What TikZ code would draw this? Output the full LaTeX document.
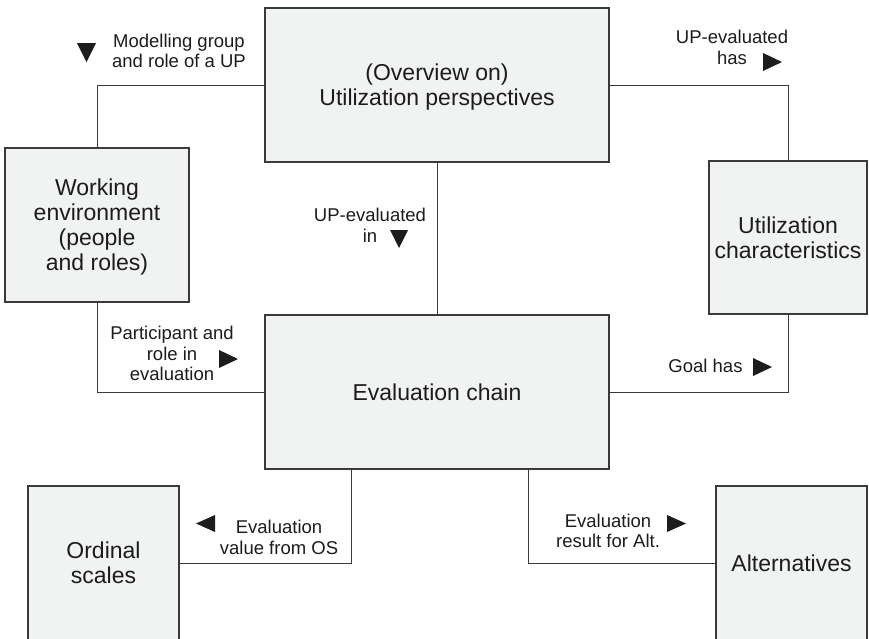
\documentclass[tikz,border=0pt]{standalone}
\usepackage{fontspec}
\setmainfont{Liberation Sans}
\usetikzlibrary{calc}
\definecolor{boxfill}{HTML}{F1F2F2}
\definecolor{edge}{HTML}{3A3A3A}
\definecolor{ink}{HTML}{1C1C1C}
\begin{document}
\begin{tikzpicture}[x=1pt,y=-1pt,
  box/.style={draw=edge, line width=1.1pt, fill=boxfill, text=ink, align=center,
    inner sep=0pt, text depth=0pt, font=\fontsize{23}{25}\selectfont},
  link/.style={draw=edge, line width=1pt},
  lbl/.style={text=ink, align=center, inner sep=0pt, anchor=base,
    font=\fontsize{18.5}{20.5}\selectfont},
  tri/.style={fill=ink}]
\useasboundingbox (0,0) rectangle (869,638);
\fill[white] (0,0) rectangle (869,638);

% entity boxes
\node[box, minimum width=344, minimum height=154] (over) at (437,85)
  {(Overview on)\\Utilization perspectives};
\node[box, minimum width=344, minimum height=154] (eval) at (437,392)
  {Evaluation chain};
\node[box, minimum width=184, minimum height=154] (work) at (97,225)
  {Working\\environment\\(people\\and roles)};
\node[box, minimum width=158, minimum height=153] (util) at (788,237.5)
  {Utilization\\characteristics};
\node[box, minimum width=151, minimum height=154] (ord) at (103.5,563)
  {Ordinal\\scales};
\node[box, minimum width=151, minimum height=154] (alt) at (791.5,563)
  {Alternatives};

% relationships
\draw[link] (work.north) |- (over.west);
\draw[link] (over.east) -| (util.north);
\draw[link] (over.south) -- (eval.north);
\draw[link] (work.south) |- (eval.west);
\draw[link] (util.south) |- (eval.east);
\coordinate (evl) at ($(eval.south)+(-86,0)$);
\coordinate (evr) at ($(eval.south)+(91,0)$);
\draw[link] (evl) |- (ord.east);
\draw[link] (evr) |- (alt.west);

% relationship labels (placed at the baseline of their last line)
\node[lbl] (lmod) at (179,67.5) {Modelling group\\and role of a UP};
\node[lbl] (lhas) at (732,64) {UP-evaluated\\has};
\node[lbl] (lin) at (370,242) {UP-evaluated\\in};
\node[lbl] (lpart) at (172,380.5) {Participant and\\role in\\evaluation};
\node[lbl] (lgoal) at (705.5,372) {Goal has};
\node[lbl] (lval) at (279,554) {Evaluation\\value from OS};
\node[lbl] (lres) at (608,547.5) {Evaluation\\result for Alt.};

% reading-direction marks
\fill[tri] (77,43) -- (96,43) -- (86.5,62) -- cycle;
\fill[tri] (763,53) -- (763,71) -- (782,62) -- cycle;
\fill[tri] (390,230) -- (408,230) -- (399,248) -- cycle;
\fill[tri] (219,350) -- (219,368) -- (238,359) -- cycle;
\fill[tri] (753,358) -- (753,376) -- (772,367) -- cycle;
\fill[tri] (215,515) -- (215,532) -- (196,523.5) -- cycle;
\fill[tri] (667,515) -- (667,532) -- (686,523.5) -- cycle;
\end{tikzpicture}
\end{document}
